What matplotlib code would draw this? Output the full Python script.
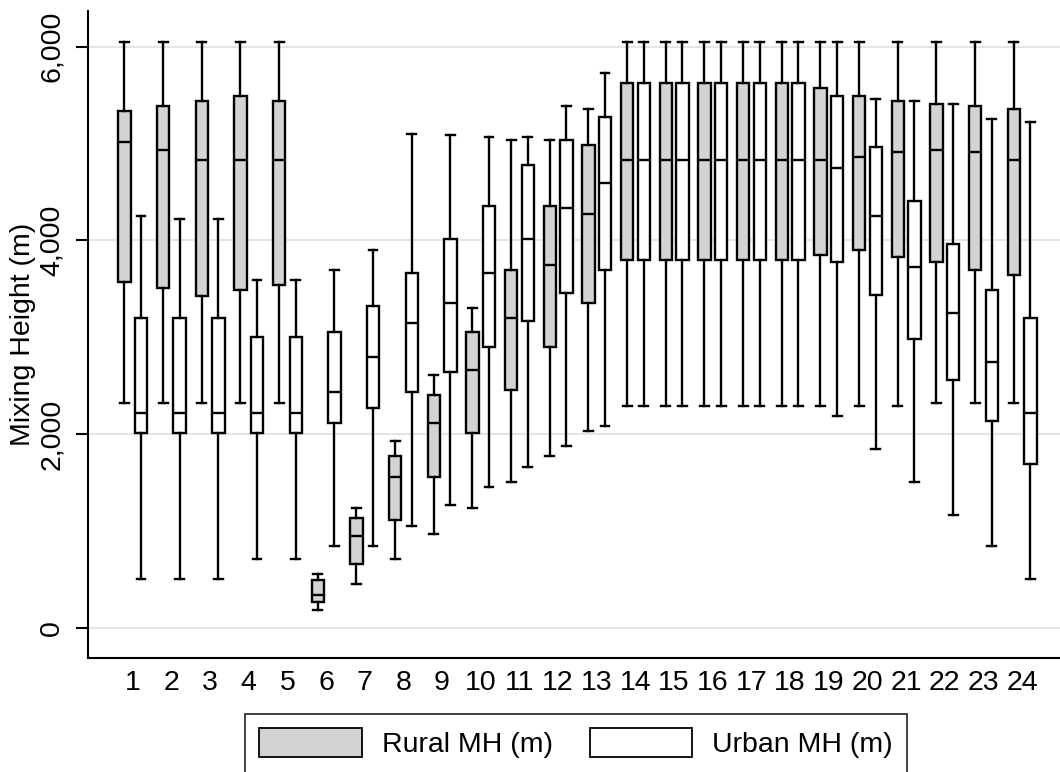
"""
Hourly mixing height box plots, rural vs urban.
"""
import numpy as np
import matplotlib
matplotlib.use('Agg')
import matplotlib.pyplot as plt
from matplotlib.patches import Patch
from matplotlib.ticker import FuncFormatter

hours = list(range(1, 25))

# Rural MH (m): whisker low, Q1, median, Q3, whisker high
rural_lo = [2317, 2317, 2317, 2317, 2317, 183, 448, 713, 970, 1239, 1504, 1770,
            2035, 2291, 2291, 2291, 2291, 2291, 2291, 2291, 2291, 2317, 2317, 2317]
rural_q1 = [3565, 3509, 3430, 3487, 3535, 261, 661, 1109, 1557, 2009, 2452, 2904,
            3357, 3800, 3800, 3800, 3800, 3800, 3852, 3904, 3826, 3774, 3696, 3644]
rural_med = [5013, 4935, 4830, 4830, 4830, 335, 948, 1557, 2113, 2665, 3196, 3748,
             4270, 4830, 4830, 4830, 4830, 4830, 4830, 4857, 4909, 4935, 4909, 4830]
rural_q3 = [5335, 5387, 5435, 5487, 5435, 496, 1130, 1770, 2400, 3057, 3696, 4352,
            4987, 5622, 5622, 5622, 5622, 5622, 5570, 5487, 5435, 5409, 5383, 5357]
rural_hi = [6050, 6050, 6050, 6050, 6050, 557, 1239, 1926, 2613, 3300, 5039, 5039,
            5357, 6050, 6050, 6050, 6050, 6050, 6050, 6050, 6050, 6050, 6050, 6050]

# Urban MH (m)
urban_lo = [500, 500, 500, 713, 713, 843, 843, 1052, 1265, 1448, 1661, 1874,
            2087, 2291, 2291, 2291, 2291, 2291, 2187, 1848, 1504, 1161, 843, 500]
urban_q1 = [2009, 2009, 2009, 2009, 2009, 2113, 2270, 2430, 2639, 2904, 3170, 3461,
            3696, 3800, 3800, 3800, 3800, 3800, 3774, 3435, 2983, 2561, 2139, 1687]
urban_med = [2213, 2213, 2213, 2213, 2213, 2430, 2800, 3144, 3357, 3661, 4013, 4331,
             4591, 4830, 4830, 4830, 4830, 4830, 4752, 4248, 3722, 3248, 2748, 2213]
urban_q3 = [3196, 3196, 3196, 3004, 3004, 3057, 3326, 3661, 4013, 4352, 4778, 5039,
            5278, 5622, 5622, 5622, 5622, 5622, 5487, 4961, 4409, 3961, 3483, 3196]
urban_hi = [4248, 4222, 4222, 3591, 3591, 3696, 3904, 5096, 5091, 5065, 5065, 5383,
            5726, 6050, 6050, 6050, 6050, 6050, 6050, 5461, 5435, 5409, 5252, 5226]

y_ticks = [0, 2000, 4000, 6000]

plt.rcParams['font.family'] = ['Liberation Sans', 'DejaVu Sans']


def make_stats(lo, q1, med, q3, hi):
    return [dict(whislo=a, q1=b, med=c, q3=d, whishi=e, fliers=[])
            for a, b, c, d, e in zip(lo, q1, med, q3, hi)]


fig = plt.figure(figsize=(10.6, 7.72), dpi=100)
ax = fig.add_axes([88 / 1060, 1 - 657.7 / 772, 1 - 88 / 1060, (657.7 - 11) / 772])

lw = 1.7
common = dict(widths=0.32, showfliers=False, patch_artist=True,
              whiskerprops=dict(color='black', linewidth=lw),
              capprops=dict(color='black', linewidth=lw),
              medianprops=dict(color='black', linewidth=lw))
pos = np.array(hours, dtype=float)
ax.bxp(make_stats(rural_lo, rural_q1, rural_med, rural_q3, rural_hi),
       positions=pos - 0.215,
       boxprops=dict(facecolor='#d3d3d3', edgecolor='black', linewidth=lw),
       capwidths=0.23, **common)
ax.bxp(make_stats(urban_lo, urban_q1, urban_med, urban_q3, urban_hi),
       positions=pos + 0.215,
       boxprops=dict(facecolor='white', edgecolor='black', linewidth=lw),
       capwidths=0.23, **common)

ax.set_xlim(-0.156, 24.98)
ax.set_ylim(-310, 6369)
ax.set_xticks(hours)
ax.set_xticklabels([str(h) for h in hours])
ax.set_yticks(y_ticks)
ax.yaxis.set_major_formatter(FuncFormatter(lambda v, p: f'{v:,.0f}'))

ax.grid(axis='y', color='#e3e3e3', linewidth=1.3)
ax.set_axisbelow(True)
for side in ['top', 'right']:
    ax.spines[side].set_visible(False)
for side in ['left', 'bottom']:
    ax.spines[side].set_linewidth(1.5)

ax.tick_params(axis='x', length=0, pad=9, labelsize=20.5)
ax.tick_params(axis='y', length=8.6, width=1.5, pad=8, labelsize=20.5, labelrotation=90)
for lab in ax.get_yticklabels():
    lab.set_va('center')

ax.set_ylabel('Mixing Height (m)', fontsize=20.5, labelpad=2)

handles = [Patch(facecolor='#d3d3d3', edgecolor='black', linewidth=1.3, label='Rural MH (m)'),
           Patch(facecolor='white', edgecolor='black', linewidth=1.3, label='Urban MH (m)')]
leg = fig.legend(handles=handles, loc='upper left', bbox_to_anchor=(245 / 1060, 1 - 714 / 772),
                 ncol=2, fontsize=20.5, frameon=True, fancybox=False, edgecolor='black',
                 handlelength=3.6, handleheight=1.2, handletextpad=0.7,
                 columnspacing=1.3, borderpad=0.5, borderaxespad=0)
leg.get_frame().set_linewidth(1.3)

fig.savefig('out.png', dpi=100)
